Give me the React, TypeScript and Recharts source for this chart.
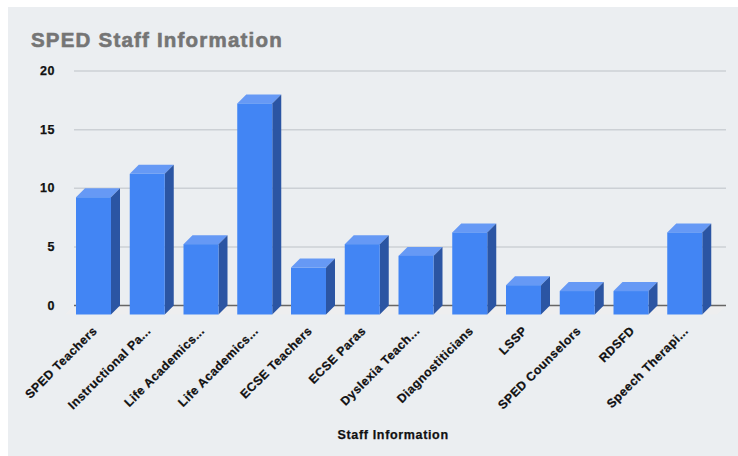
import React from "react";
import { BarChart, Bar, XAxis, YAxis, CartesianGrid } from "recharts";

const categories = ["SPED Teachers", "Instructional Pa...", "Life Academics...", "Life Academics...", "ECSE Teachers", "ECSE Paras", "Dyslexia Teach...", "Diagnostiticians", "LSSP", "SPED Counselors", "RDSFD", "Speech Therapi..."];
const values = [10, 12, 6, 18, 4, 6, 5, 7, 2.5, 2, 2, 7];
const yTicks = [0, 5, 10, 15, 20];
const data = categories.map((name, i) => ({ key: i, name, value: values[i] }));

const DEPTH = 9;
const FONT = "'Liberation Sans', Arial, sans-serif";

const Box = (props: any) => {
  const { x, y, width, height } = props;
  const w = width - DEPTH;
  const fx = x;
  const fy = y + DEPTH;
  const h = height;
  return (
    <g>
      <polygon points={`${fx},${fy} ${fx + DEPTH},${fy - DEPTH} ${fx + w + DEPTH},${fy - DEPTH} ${fx + w},${fy}`} fill="#6699f5" />
      <polygon points={`${fx + w},${fy} ${fx + w + DEPTH},${fy - DEPTH} ${fx + w + DEPTH},${fy + h - DEPTH} ${fx + w},${fy + h}`} fill="#2b55a3" />
      <rect x={fx} y={fy} width={w} height={h} fill="#4285f4" />
    </g>
  );
};

const XTick = (props: any) => {
  const { x, y, payload } = props;
  return (
    <text
      x={0}
      y={0}
      transform={`translate(${x},${y + 18}) rotate(-45)`}
      textAnchor="end"
      fontFamily={FONT}
      fontWeight={700}
      fontSize={12.2}
      fill="#111111"
      stroke="#111111"
      strokeWidth={0.25}
      style={{ letterSpacing: 0.5 }}
    >
      {categories[payload.value]}
    </text>
  );
};

const YTick = (props: any) => {
  const { x, y, payload } = props;
  return (
    <text
      x={x - 11}
      y={y + 4}
      textAnchor="end"
      fontFamily={FONT}
      fontWeight={700}
      fontSize={12.5}
      fill="#111111"
      stroke="#111111"
      strokeWidth={0.25}
      style={{ letterSpacing: 0.5 }}
    >
      {payload.value}
    </text>
  );
};

const GridLine = (props: any) => {
  const { x1, x2, y1, index } = props;
  if (index === 0) {
    return (
      <g>
        <polygon points={`${x1},${y1} ${x2},${y1} ${x2 - DEPTH},${y1 + DEPTH} ${x1 - DEPTH},${y1 + DEPTH}`} fill="#eeeeef" />
        <line x1={x1} x2={x2} y1={y1} y2={y1} stroke="#666666" strokeWidth={1.5} />
      </g>
    );
  }
  return <line x1={x1} x2={x2} y1={y1} y2={y1} stroke="#ccd0d5" strokeWidth={1.5} />;
};

export default function App() {
  return (
    <div style={{ position: "absolute", left: 8, top: 7, width: 730, height: 449, background: "#ebeef1" }}>
      <BarChart
        width={730}
        height={449}
        data={data}
        barCategoryGap={0}
        margin={{ top: 64, right: 12, bottom: 0, left: 0 }}
        style={{ position: "absolute", left: 0, top: 0 }}
      >
        <CartesianGrid horizontal={(p: any) => <GridLine {...p} />} vertical={false} />
        <XAxis
          dataKey="key"
          interval={0}
          height={150.5}
          padding={{ left: -3, right: 10 }}
          axisLine={false}
          tickLine={false}
          tick={<XTick />}
        />
        <YAxis
          domain={[0, 20]}
          ticks={yTicks}
          width={66}
          axisLine={false}
          tickLine={false}
          tick={<YTick />}
        />
        <Bar dataKey="value" barSize={44} shape={<Box />} isAnimationActive={false} />
      </BarChart>
      <div style={{ position: "absolute", left: 23, top: 20.5, fontFamily: FONT, fontWeight: 700, fontSize: 20.5, color: "#757575", letterSpacing: 1.2, whiteSpace: "nowrap", WebkitTextStroke: "0.6px #757575" }}>
        SPED Staff Information
      </div>
      <div style={{ position: "absolute", left: 329.5, top: 421, fontFamily: FONT, fontWeight: 700, fontSize: 12.5, color: "#111111", letterSpacing: 0.66, whiteSpace: "nowrap", WebkitTextStroke: "0.25px #111111" }}>
        Staff Information
      </div>
    </div>
  );
}
